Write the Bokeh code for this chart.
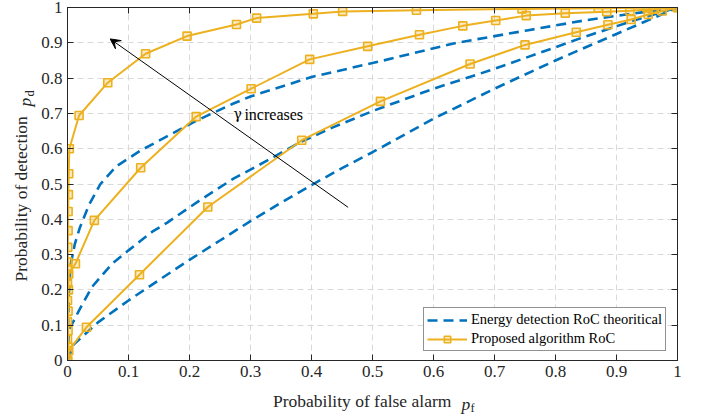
from math import pi
from bokeh.plotting import figure
from bokeh.layouts import row, column
from bokeh.models import (Range1d, FixedTicker, LinearAxis, Legend, LegendItem,
                          Label, Arrow, VeeHead)
from bokeh.embed import file_html
from bokeh.resources import INLINE

# ---------------- data ----------------
tick_values = [0, 0.1, 0.2, 0.3, 0.4, 0.5, 0.6, 0.7, 0.8, 0.9, 1]
tick_labels = ["0", "0.1", "0.2", "0.3", "0.4", "0.5", "0.6", "0.7", "0.8", "0.9", "1"]

# Energy detection RoC (theoretical), three SNR / gamma levels
ed_high_pf = [0, 0.0005, 0.001, 0.002, 0.005, 0.012, 0.02, 0.035, 0.054, 0.08, 0.12, 0.16,
              0.212, 0.272, 0.3, 0.4, 0.518, 0.638, 0.753, 0.846, 0.944, 1.0]
ed_high_pd = [0, 0.05, 0.1, 0.18, 0.27, 0.33, 0.375, 0.44, 0.5, 0.55, 0.595, 0.632,
              0.68, 0.728, 0.748, 0.803, 0.85, 0.9, 0.935, 0.963, 0.987, 1.0]

ed_mid_pf = [0, 0.002, 0.019, 0.04, 0.073, 0.1, 0.139, 0.163, 0.218, 0.272, 0.327, 0.381,
             0.436, 0.502, 0.6, 0.693, 0.77, 0.846, 0.928, 1.0]
ed_mid_pd = [0, 0.085, 0.142, 0.208, 0.274, 0.312, 0.365, 0.39, 0.455, 0.515, 0.566, 0.618,
             0.661, 0.708, 0.77, 0.822, 0.869, 0.916, 0.963, 1.0]

ed_low_pf = [0, 0.01, 0.05, 0.1, 0.15, 0.2, 0.25, 0.3, 0.35, 0.4, 0.45, 0.5, 0.6, 0.7,
             0.8, 0.9, 1.0]
ed_low_pd = [0, 0.045, 0.108, 0.17, 0.228, 0.285, 0.34, 0.395, 0.447, 0.497, 0.545, 0.59,
             0.685, 0.77, 0.85, 0.925, 1.0]

# Proposed algorithm RoC, three gamma levels
pr_high_pf = [0, 0, 0, 0, 0, 0, 0.0005, 0.0005, 0.001, 0.001, 0.0015, 0.002, 0.003, 0.019,
              0.066, 0.128, 0.196, 0.277, 0.310, 0.403, 0.451, 0.572, 0.745, 0.87, 0.95, 1.0]
pr_high_pd = [0, 0.06, 0.11, 0.17, 0.22, 0.26, 0.279, 0.321, 0.368, 0.422, 0.47, 0.529, 0.6,
              0.694, 0.787, 0.869, 0.919, 0.952, 0.970, 0.982, 0.989, 0.992, 0.996, 0.998,
              0.999, 1.0]

pr_mid_pf = [0, 0.0005, 0.001, 0.001, 0.0015, 0.002, 0.013, 0.044, 0.120, 0.211, 0.301, 0.397,
             0.492, 0.577, 0.648, 0.702, 0.752, 0.816, 0.884, 0.922, 0.96, 1.0]
pr_mid_pd = [0, 0.04, 0.085, 0.14, 0.2, 0.245, 0.274, 0.397, 0.546, 0.691, 0.770, 0.853,
             0.890, 0.923, 0.948, 0.963, 0.977, 0.984, 0.988, 0.991, 0.995, 1.0]

pr_low_pf = [0, 0.002, 0.031, 0.118, 0.230, 0.384, 0.513, 0.660, 0.750, 0.834, 0.886, 0.924,
             0.952, 0.975, 1.0]
pr_low_pd = [0, 0.028, 0.094, 0.243, 0.435, 0.624, 0.734, 0.840, 0.894, 0.930, 0.951, 0.966,
             0.980, 0.99, 1.0]

legend_labels = ["Energy detection RoC theoritical", "Proposed algorithm RoC"]
annot_symbol = "\u03b3"
annot_word = "increases"
annot_pos = [0.272, 0.697]
arrow_start = [0.46, 0.434]
arrow_end = [0.07, 0.911]
xlabel_parts = ["Probability of false alarm", "p", "f"]
ylabel_parts = ["Probability of detection", "p", "d"]

# ---------------- style / layout ----------------
BLUE = "#0072BD"
ORANGE = "#EDB120"
AX = "#262626"
FONT = "Liberation Serif"
W, H = 701, 417
YLAB_W = 37            # strip on the left holding the rotated y title
XLAB_H = 30            # strip at the bottom holding the x title
MW, MH = W - YLAB_W, H - XLAB_H
FL, FR, FT, FB = 67, 677, 7, 360   # frame edges in page pixels


def dx(px):
    return (px - FL) / (FR - FL)


p = figure(width=MW, height=MH, output_backend="svg", toolbar_location=None,
           title=None,
           x_range=Range1d(0, 1), y_range=Range1d(0, 1),
           min_border_left=FL - YLAB_W, min_border_right=W - FR,
           min_border_top=FT, min_border_bottom=MH - FB)
p.background_fill_color = "white"
p.border_fill_color = "white"
p.outline_line_color = AX


def style_axis(ax, labels=True):
    ax.ticker = FixedTicker(ticks=tick_values)
    ax.minor_tick_line_color = None
    ax.major_tick_in = 6
    ax.major_tick_out = 0
    ax.axis_line_color = AX
    ax.major_tick_line_color = AX
    ax.axis_line_width = 1
    if labels:
        ax.major_label_overrides = dict(zip(tick_values, tick_labels))
        ax.major_label_text_font = FONT
        ax.major_label_text_font_size = "17px"
        ax.major_label_text_color = AX
        ax.major_label_standoff = 5
    else:
        ax.major_label_text_color = None
        ax.major_label_text_font_size = "1px"
        ax.major_label_standoff = 0


style_axis(p.xaxis[0])
style_axis(p.yaxis[0])
top_ax = LinearAxis()
right_ax = LinearAxis()
style_axis(top_ax, labels=False)
style_axis(right_ax, labels=False)
p.add_layout(top_ax, "above")
p.add_layout(right_ax, "right")

for g in (p.xgrid[0], p.ygrid[0]):
    g.ticker = FixedTicker(ticks=tick_values)
    g.grid_line_color = "#d9d9d9"
    g.grid_line_dash = "6 4"
    g.grid_line_width = 1

# ---------------- curves ----------------
dash = "10 6"
r_ed = []
for xs, ys in ((ed_high_pf, ed_high_pd), (ed_mid_pf, ed_mid_pd), (ed_low_pf, ed_low_pd)):
    r_ed.append(p.line(xs, ys, line_color=BLUE, line_width=2.6, line_dash=dash))

r_pl, r_ps = [], []
for xs, ys in ((pr_high_pf, pr_high_pd), (pr_mid_pf, pr_mid_pd), (pr_low_pf, pr_low_pd)):
    r_pl.append(p.line(xs, ys, line_color=ORANGE, line_width=2))
    r_ps.append(p.scatter(xs, ys, marker="square", size=8, line_color=ORANGE,
                          line_width=1.6, fill_color=ORANGE, fill_alpha=0.25))

# ---------------- annotations ----------------
p.add_layout(Arrow(x_start=arrow_start[0], y_start=arrow_start[1],
                   x_end=arrow_end[0], y_end=arrow_end[1],
                   line_color="black", line_width=1,
                   end=VeeHead(size=10, fill_color="black", line_color="black", line_width=1)))
p.add_layout(Label(x=annot_pos[0], y=annot_pos[1], text=annot_symbol, text_font="DejaVu Serif",
                   text_font_size="14px", text_color="black", text_baseline="middle"))
p.add_layout(Label(x=annot_pos[0], y=annot_pos[1], x_offset=11, text=annot_word,
                   text_font=FONT, text_font_size="16px", text_color="black",
                   text_baseline="middle"))

# ---------------- legend ----------------
legend = Legend(items=[LegendItem(label=legend_labels[0], renderers=[r_ed[0]]),
                       LegendItem(label=legend_labels[1], renderers=[r_pl[0], r_ps[0]])],
                location=(356, 9))
legend.label_text_font = FONT
legend.label_text_font_size = "14.5px"
legend.label_text_color = "black"
legend.glyph_width = 40
legend.glyph_height = 16
legend.label_height = 16
legend.label_standoff = 4
legend.spacing = 2
legend.padding = 3
legend.margin = 0
legend.border_line_color = AX
legend.border_line_width = 1
legend.background_fill_color = "white"
legend.background_fill_alpha = 1
p.add_layout(legend)


# ---------------- axis titles (separate strips) ----------------
def strip(width, height, xr):
    f = figure(width=width, height=height, output_backend="svg", toolbar_location=None,
               title=None, x_range=xr, y_range=Range1d(height, 0),
               x_axis_location=None, y_axis_location=None, min_border=0)
    f.grid.visible = False
    f.outline_line_color = None
    f.background_fill_color = "white"
    f.border_fill_color = "white"
    return f


lbl = dict(text_font=FONT, text_color=AX, text_baseline="middle", text_align="left")

# bottom strip: its frame is aligned with the main frame horizontally (x in 0..1),
# y counted in pixels from the strip's top
xl = strip(MW, XLAB_H, Range1d(0, 1))
xl.add_layout(Label(x=dx(272.5), y=400.5 - MH, text=xlabel_parts[0],
                    text_font_size="17.5px", **lbl))
xl.add_layout(Label(x=dx(461), y=403 - MH, text=xlabel_parts[1],
                    text_font_style="italic", text_font_size="17.5px", **lbl))
xl.add_layout(Label(x=dx(470), y=407.5 - MH, text=xlabel_parts[2],
                    text_font_size="12.5px", **lbl))

# left strip: page pixel coordinates
yl = strip(YLAB_W, H, Range1d(0, YLAB_W))
yl.add_layout(Label(x=20, y=281, text=ylabel_parts[0], angle=pi / 2,
                    text_font_size="17.5px", **lbl))
yl.add_layout(Label(x=24, y=106, text=ylabel_parts[1], angle=pi / 2,
                    text_font_style="italic", text_font_size="17.5px", **lbl))
yl.add_layout(Label(x=29, y=96, text=ylabel_parts[2], angle=pi / 2,
                    text_font_size="12.5px", **lbl))

page = row(yl, column(p, xl, spacing=0), spacing=0)

open("out.html", "w").write(file_html(page, INLINE))
